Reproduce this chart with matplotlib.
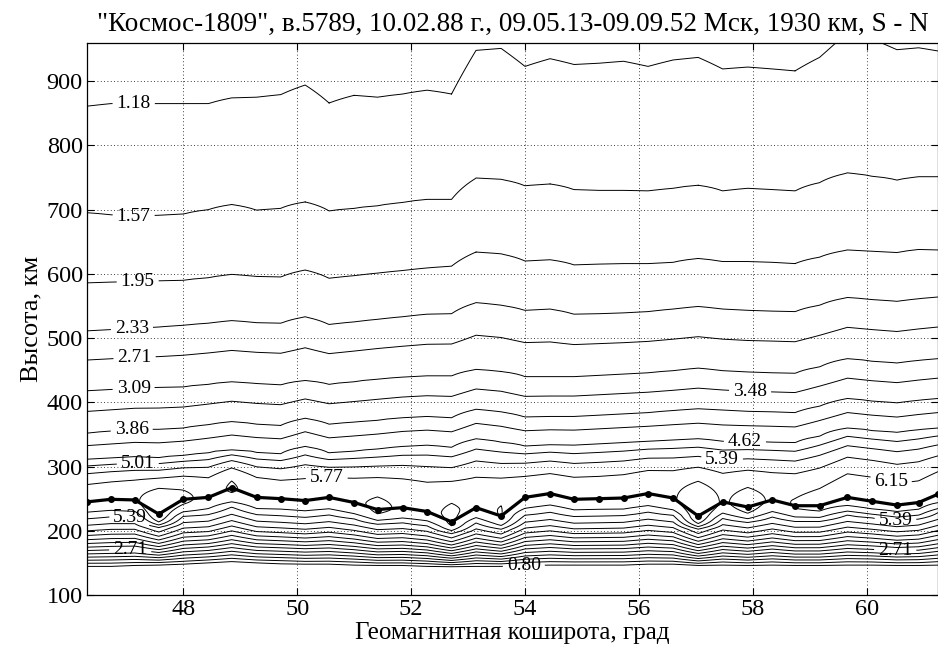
import numpy as np
import matplotlib
matplotlib.use("Agg")
import matplotlib.pyplot as plt

plt.rcParams['font.family'] = ['Liberation Serif', 'DejaVu Serif']

# ---- data ----
lat = [46.31, 46.73, 47.15, 47.57, 48.00, 48.44, 48.85, 49.29, 49.71, 50.14,
       50.56, 51.00, 51.41, 51.85, 52.28, 52.71, 53.14, 53.58, 54.00, 54.44,
       54.86, 55.30, 55.73, 56.16, 56.60, 57.04, 57.47, 57.91, 58.34, 58.74,
       59.17, 59.66, 60.09, 60.53, 60.91, 61.25]
hmf2 = [245, 249, 248, 226, 249, 252, 267, 252, 250, 247,
        252, 244, 233, 236, 230, 214, 236, 223, 252, 258,
        249, 250, 251, 258, 251, 223, 245, 237, 248, 239,
        239, 252, 246, 240, 244, 257]
nmf2 = [6.00, 6.02, 6.08, 6.55, 6.22, 6.05, 6.20, 6.05, 6.00, 6.00,
        6.05, 6.10, 6.22, 6.10, 6.05, 6.25, 6.05, 6.18, 6.00, 6.00,
        6.00, 6.00, 6.02, 6.05, 6.10, 6.54, 6.10, 6.30, 6.10, 6.17,
        6.25, 6.35, 6.35, 6.30, 6.30, 6.35]
# topside heights of selected levels
h118 = [861, 865, 865, 865, 865, 865, 874, 875, 879, 894, 866, 878, 875, 880, 886, 880, 948, 951,
        923, 935, 926, 928, 931, 923, 933, 937, 919, 922, 919, 916, 937, 976, 966, 949, 952, 947]
h157 = [695, 692, 690, 691, 693, 700, 708, 699, 702, 712, 698, 702, 706, 711, 716, 716, 749, 747,
        737, 740, 731, 730, 730, 729, 733, 738, 729, 733, 731, 729, 742, 757, 752, 746, 751, 751]
h195 = [586, 587, 588, 589, 590, 594, 599, 596, 595, 606, 593, 597, 601, 605, 609, 612, 634, 631,
        620, 622, 614, 615, 616, 616, 618, 624, 619, 619, 618, 616, 626, 637, 635, 633, 638, 637]
h233 = [511, 513, 515, 517, 520, 523, 527, 524, 523, 533, 521, 525, 529, 533, 537, 538, 555, 551,
        543, 545, 537, 538, 539, 541, 545, 549, 545, 543, 542, 541, 551, 563, 560, 557, 561, 564]
h309 = [418, 420, 422, 423, 424, 428, 432, 429, 427, 434, 428, 432, 436, 439, 441, 441, 451, 448,
        440, 440, 440, 442, 444, 446, 449, 453, 449, 447, 446, 445, 455, 468, 464, 461, 465, 468]
h386 = [352, 355, 358, 358, 360, 365, 370, 366, 364, 375, 366, 369, 372, 376, 378, 376, 389, 385,
        377, 378, 378, 380, 382, 384, 387, 390, 388, 386, 385, 384, 394, 406, 402, 399, 403, 406]
h462 = [311, 313, 315, 314, 317, 321, 326, 322, 320, 331, 321, 324, 327, 331, 333, 330, 343, 338,
        332, 334, 333, 335, 337, 339, 341, 343, 339, 339, 338, 337, 347, 360, 356, 353, 357, 360]
# bottomside: height of the 0.80 level and relative shape of the bottomside
h080 = [145, 145, 146, 147, 148, 150, 152, 150, 149, 148, 148, 147, 146, 146, 145, 144, 145, 145,
        146, 147, 147, 147, 147, 148, 148, 146, 147, 146, 147, 146, 146, 147, 147, 146, 146, 147]
bottom_levels = [0.42, 0.80, 2.71, 5.39]
bottom_frac = [-0.12, 0.0, 0.243, 0.738]
top_levels = [4.62, 3.86, 3.09, 2.33, 1.95, 1.57, 1.18, 0.90]

levels = [0.80, 1.18, 1.57, 1.95, 2.33, 2.71, 3.09, 3.48, 3.86, 4.24, 4.62, 5.01, 5.39, 5.77, 6.15]
label_pos = [(47.13, 863), (47.13, 692), (47.20, 587), (47.10, 513), (47.15, 460), (47.13, 419),
             (47.10, 350), (47.20, 300), (50.52, 276), (47.07, 221), (47.07, 170), (53.98, 144),
             (57.95, 414), (57.86, 339), (57.45, 305), (60.41, 270), (60.50, 212), (60.50, 171)]

title = '"Космос-1809", в.5789, 10.02.88 г., 09.05.13-09.09.52 Мск, 1930 км, S - N'
xlabel = 'Геомагнитная коширота, град'
ylabel = 'Высота, км'

# ---- build the gridded field from the per-column profiles ----
z = np.arange(90.0, 1001.0, 2.0)
F = np.zeros((len(z), len(lat)))
bl = np.array(bottom_levels)
bf = np.array(bottom_frac)
tl = np.array(top_levels)
for j in range(len(lat)):
    nm, hm = nmf2[j], hmf2[j]
    zb = h080[j] + bf * (hm - h080[j])
    zt = np.array([h462[j], h386[j], h309[j], h233[j], h195[j], h157[j], h118[j], h118[j] + 150])
    zz = np.concatenate([zb, [hm], zt])
    vv = np.concatenate([bl, [nm], tl])
    d = np.sqrt(nm - vv)
    F[:, j] = nm - np.interp(z, zz, d) ** 2

fig = plt.figure(figsize=(9.38, 6.53), dpi=100)
ax = fig.add_axes([87 / 938, 58 / 653, 851 / 938, 551.7 / 653])

cs = ax.contour(lat, z, F, levels=levels, colors='k', linewidths=0.7)
fmt = {lv: '%.2f' % lv for lv in levels}
texts = ax.clabel(cs, levels=levels, manual=label_pos, inline=True, fmt=fmt, fontsize=14,
                  inline_spacing=4)
for t in texts:
    t.set_rotation(0)

ax.plot(lat, hmf2, '-', color='k', lw=2.3, marker='.', ms=8)

ax.set_xlim(lat[0], lat[-1])
ax.set_ylim(100, 959)
ax.set_xticks([48, 50, 52, 54, 56, 58, 60])
ax.set_yticks(list(range(100, 901, 100)))
ax.tick_params(direction='in', length=5, labelsize=17.5, top=True, right=True, width=0.8, pad=3)
ax.grid(True, linestyle=(0, (1, 3)), color='k', linewidth=0.6)
for s in ax.spines.values():
    s.set_linewidth(0.9)

ax.set_title(title, fontsize=19.5, pad=9)
ax.set_xlabel(xlabel, fontsize=18, labelpad=1)
ax.set_ylabel(ylabel, fontsize=19, labelpad=3)

fig.savefig('out.png', dpi=100)
